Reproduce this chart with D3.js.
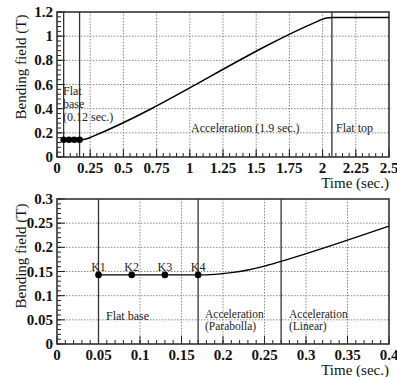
<!DOCTYPE html>
<html><head><meta charset="utf-8">
<script src="https://cdn.jsdelivr.net/npm/d3@7"></script>
<style>body{margin:0;background:#fff}svg{display:block}</style>
</head><body>
<script>
// ---- data ----
const topCurveT = [0.05, 0.17, 0.20, 0.23, 0.27, 1.97, 2.00, 2.03, 2.07, 2.5];
const topCurveB = [0.143, 0.143, 0.1455, 0.153, 0.171, 1.127, 1.141, 1.150, 1.155, 1.155];
const botCurveT = [0.05, 0.17, 0.19, 0.21, 0.23, 0.25, 0.27, 0.4];
const botCurveB = [0.143, 0.143, 0.1441, 0.1475, 0.1531, 0.161, 0.171, 0.244];
const knotT = [0.05, 0.09, 0.13, 0.17];
const knotB = [0.143, 0.143, 0.143, 0.143];
const knotLabels = ["K1", "K2", "K3", "K4"];
const topVLines = [0.05, 0.17, 2.07];
const botVLines = [0.05, 0.17, 0.27];
const topXTicks = [0, 0.25, 0.5, 0.75, 1, 1.25, 1.5, 1.75, 2, 2.25, 2.5];
const topXTickLabels = ["0", "0.25", "0.5", "0.75", "1", "1.25", "1.5", "1.75", "2", "2.25", "2.5"];
const topYTicks = [0, 0.2, 0.4, 0.6, 0.8, 1, 1.2];
const topYTickLabels = ["0", "0.2", "0.4", "0.6", "0.8", "1", "1.2"];
const botXTicks = [0, 0.05, 0.1, 0.15, 0.2, 0.25, 0.3, 0.35, 0.4];
const botXTickLabels = ["0", "0.05", "0.1", "0.15", "0.2", "0.25", "0.3", "0.35", "0.4"];
const botYTicks = [0, 0.05, 0.1, 0.15, 0.2, 0.25, 0.3];
const botYTickLabels = ["0", "0.05", "0.1", "0.15", "0.2", "0.25", "0.3"];
const xTitle = "Time (sec.)";
const yTitle = "Bending field (T)";

const W = 397, H = 377;
const FONT = "Liberation Serif";
const svg = d3.select("body").append("svg").attr("width", W).attr("height", H);

function panel(cfg) {
  const x = d3.scaleLinear().domain(cfg.xDom).range([57, 389]);
  const y = d3.scaleLinear().domain(cfg.yDom).range([cfg.bottom, cfg.top]);
  const g = svg.append("g");
  g.selectAll(".gx").data(cfg.xTicks.slice(1, -1)).enter().append("line")
    .attr("x1", d => x(d)).attr("x2", d => x(d)).attr("y1", cfg.top).attr("y2", cfg.bottom)
    .attr("stroke", "#888").attr("stroke-width", 1).attr("stroke-dasharray", "1.5,1.5");
  g.selectAll(".gy").data(cfg.yTicks.slice(1, -1)).enter().append("line")
    .attr("y1", d => y(d)).attr("y2", d => y(d)).attr("x1", 57).attr("x2", 389)
    .attr("stroke", "#888").attr("stroke-width", 1).attr("stroke-dasharray", "1.5,1.5");
  const xMinor = d3.range(cfg.xDom[0], cfg.xDom[1] + 1e-9, cfg.xMinor);
  const yMinor = d3.range(cfg.yDom[0], cfg.yDom[1] + 1e-9, cfg.yMinor);
  g.selectAll(".mx").data(xMinor).enter().append("line")
    .attr("x1", d => x(d)).attr("x2", d => x(d)).attr("y1", cfg.bottom).attr("y2", cfg.bottom - 4)
    .attr("stroke", "#222").attr("stroke-width", 1);
  g.selectAll(".my").data(yMinor).enter().append("line")
    .attr("y1", d => y(d)).attr("y2", d => y(d)).attr("x1", 57).attr("x2", 61)
    .attr("stroke", "#222").attr("stroke-width", 1);
  g.selectAll(".Mx").data(cfg.xTicks).enter().append("line")
    .attr("x1", d => x(d)).attr("x2", d => x(d)).attr("y1", cfg.bottom).attr("y2", cfg.bottom - 8)
    .attr("stroke", "#222").attr("stroke-width", 1);
  g.selectAll(".My").data(cfg.yTicks).enter().append("line")
    .attr("y1", d => y(d)).attr("y2", d => y(d)).attr("x1", 57).attr("x2", 65)
    .attr("stroke", "#222").attr("stroke-width", 1);
  g.selectAll(".vl").data(cfg.vlines).enter().append("line")
    .attr("x1", d => x(d)).attr("x2", d => x(d)).attr("y1", cfg.top).attr("y2", cfg.bottom)
    .attr("stroke", "#333").attr("stroke-width", 1.3);
  g.append("rect").attr("x", 57).attr("y", cfg.top).attr("width", 332).attr("height", cfg.bottom - cfg.top)
    .attr("fill", "none").attr("stroke", "#333").attr("stroke-width", 1.6);
  const pts = cfg.ct.map((t, i) => [t, cfg.cb[i]]);
  g.append("path").datum(pts)
    .attr("d", d3.line().x(d => x(d[0])).y(d => y(d[1])).curve(d3.curveMonotoneX))
    .attr("fill", "none").attr("stroke", "#000").attr("stroke-width", cfg.lw);
  g.selectAll(".k").data(knotT).enter().append("circle")
    .attr("cx", d => x(d)).attr("cy", (d, i) => y(knotB[i])).attr("r", 3.3).attr("fill", "#000");
  g.selectAll(".xl").data(cfg.xTicks).enter().append("text")
    .attr("x", d => x(d)).attr("y", cfg.bottom + 16).attr("text-anchor", "middle")
    .style("font-family", FONT).attr("font-size", 15).attr("font-weight", "bold").attr("fill", "#111")
    .text((d, i) => cfg.xLabels[i]);
  g.selectAll(".yl").data(cfg.yTicks).enter().append("text")
    .attr("x", 53).attr("y", d => y(d) + 5).attr("text-anchor", "end")
    .style("font-family", FONT).attr("font-size", 15).attr("font-weight", "bold").attr("fill", "#111")
    .text((d, i) => cfg.yLabels[i]);
  g.append("text").attr("x", 389).attr("y", cfg.bottom + 31).attr("text-anchor", "end")
    .style("font-family", FONT).attr("font-size", 15).attr("fill", "#111").text(xTitle);
  g.append("text").attr("transform", `translate(26,${cfg.ytc}) rotate(-90)`).attr("text-anchor", "middle")
    .style("font-family", FONT).attr("font-size", 15).attr("fill", "#111").text(yTitle);
  return {x, y, g};
}

const p1 = panel({xDom: [0, 2.5], yDom: [0, 1.2], top: 12, bottom: 157, xTicks: topXTicks, xLabels: topXTickLabels,
  yTicks: topYTicks, yLabels: topYTickLabels, xMinor: 0.05, yMinor: 0.04, vlines: topVLines,
  ct: topCurveT, cb: topCurveB, lw: 1.5, ytc: 67});
const p2 = panel({xDom: [0, 0.4], yDom: [0, 0.3], top: 199, bottom: 344, xTicks: botXTicks, xLabels: botXTickLabels,
  yTicks: botYTicks, yLabels: botYTickLabels, xMinor: 0.01, yMinor: 0.01, vlines: botVLines,
  ct: botCurveT, cb: botCurveB, lw: 1.3, ytc: 256});

function ann(g, xp, yp, s, fs) {
  g.append("text").attr("x", xp).attr("y", yp).style("font-family", FONT)
    .attr("font-size", fs || 12).attr("fill", "#222").text(s);
}
ann(p1.g, 63, 95, "Flat");
ann(p1.g, 63, 108, "base");
ann(p1.g, 63, 121, "(0.12 sec.)");
ann(p1.g, 191, 132, "Acceleration (1.9 sec.)");
ann(p1.g, 336, 132, "Flat top");

p2.g.selectAll(".kl").data(knotT).enter().append("text")
  .attr("x", d => p2.x(d)).attr("y", (d, i) => p2.y(knotB[i]) - 4).attr("text-anchor", "middle")
  .style("font-family", FONT).attr("font-size", 12).attr("fill", "#222").text((d, i) => knotLabels[i]);
ann(p2.g, 106, 320, "Flat base");
ann(p2.g, 205, 318, "Acceleration", 11.5);
ann(p2.g, 205, 330, "(Parabolla)", 11.5);
ann(p2.g, 289, 318, "Acceleration", 11.5);
ann(p2.g, 289, 330, "(Linear)", 11.5);
</script>
</body></html>
